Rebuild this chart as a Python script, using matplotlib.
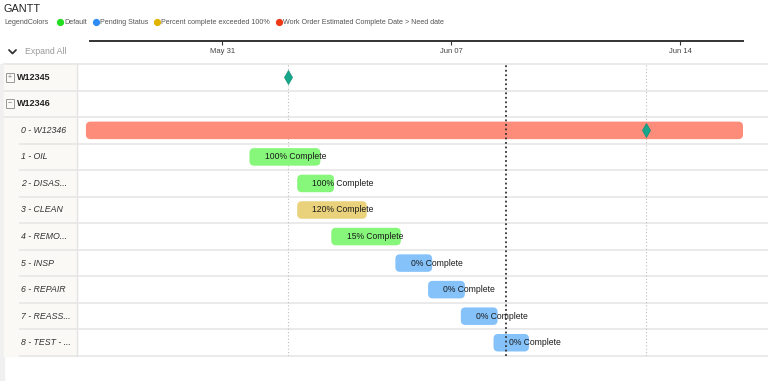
import pandas as pd
import matplotlib
matplotlib.use("Agg")
import matplotlib.pyplot as plt
import matplotlib.dates as mdates
from matplotlib.patches import FancyBboxPatch, Rectangle
from matplotlib.transforms import blended_transform_factory

plt.rcParams["font.family"] = ["Liberation Sans", "DejaVu Sans"]

# Data
row_labels = ["W12345", "W12346", "0 - W12346", "1 - OIL", "2 - DISAS...", "3 - CLEAN",
              "4 - REMO...", "5 - INSP", "6 - REPAIR", "7 - REASS...", "8 - TEST - ..."]
row_is_group = [True, True, False, False, False, False, False, False, False, False, False]
group_expanded = {"W12345": False, "W12346": True}

task_rows = ["0 - W12346", "1 - OIL", "2 - DISAS...", "3 - CLEAN", "4 - REMO...",
             "5 - INSP", "6 - REPAIR", "7 - REASS...", "8 - TEST - ..."]
task_start = ["2020-05-26 20:00", "2020-05-31 20:00", "2020-06-02 07:00", "2020-06-02 07:00",
              "2020-06-03 08:00", "2020-06-05 07:00", "2020-06-06 07:00", "2020-06-07 07:00",
              "2020-06-08 07:00"]
task_end = ["2020-06-15 22:00", "2020-06-03 00:00", "2020-06-03 10:00", "2020-06-04 10:00",
            "2020-06-05 11:00", "2020-06-06 10:00", "2020-06-07 10:00", "2020-06-08 10:00",
            "2020-06-09 09:00"]
task_status = ["late", "default", "default", "exceeded", "default",
               "pending", "pending", "pending", "pending"]
task_pct = [None, 100, 100, 120, 15, 0, 0, 0, 0]

milestone_rows = ["W12345", "0 - W12346"]
milestone_dates = ["2020-06-02 00:00", "2020-06-12 23:00"]
today = "2020-06-08 16:30"

axis_start = "2020-05-26 23:00"
axis_end = "2020-06-15 22:00"
axis_ticks = ["2020-05-31", "2020-06-07", "2020-06-14"]

legend_names = ["Default", "Pending Status", "Percent complete exceeded 100%",
                "Work Order Estimated Complete Date > Need date"]
legend_dots = ["#22dd22", "#2f8cf5", "#e0b400", "#f03a17"]

status_colors = {"late": "#fd8c7a", "default": "#86f77b",
                 "exceeded": "#ead27c", "pending": "#85c2fa"}

W, H = 768, 381
fig = plt.figure(figsize=(W / 100, H / 100), dpi=100)

# background layer in pixel units
bg = fig.add_axes([0, 0, 1, 1])
bg.set_xlim(0, W)
bg.set_ylim(H, 0)
bg.axis("off")

# gantt body
ax = fig.add_axes([90 / W, 1 - 356 / H, 653 / W, 292 / H])
ax.set_xlim(mdates.date2num(pd.Timestamp(axis_start)), mdates.date2num(pd.Timestamp(axis_end)))
ax.set_ylim(len(row_labels) - 0.5, -0.5)
ax.axis("off")
ax.patch.set_alpha(0)

row_y = {name: i for i, name in enumerate(row_labels)}
blend = blended_transform_factory(bg.transData, ax.transData)

# left panel
bg.add_patch(Rectangle((0, 64), 4, H - 64, color="#f0f0f0", zorder=0))
bg.add_patch(Rectangle((4, 64), 73, 292, color="#faf9f5", zorder=0))
bg.plot([77, 77], [64, 356], color="#e4e4e4", lw=1, zorder=1)
bg.plot([4, W], [64, 64], color="#e6e6e6", lw=1.2, zorder=1)

for i, name in enumerate(row_labels):
    x0 = 4 if (row_is_group[i] or (i + 1 < len(row_labels) and row_is_group[i + 1])) else 20
    bg.plot([x0, W], [i + 0.5, i + 0.5], color="#e6e6e6", lw=1.2, transform=blend, zorder=1)
    if row_is_group[i]:
        bg.add_patch(Rectangle((5.5, i - 0.17), 8, 0.34, transform=blend, fill=False,
                               edgecolor="#999999", lw=0.7, zorder=2))
        bg.text(9.5, i, "−" if group_expanded[name] else "+", transform=blend,
                ha="center", va="center", fontsize=5, color="#777777", zorder=3)
        bg.text(17, i, name, transform=blend, ha="left", va="center",
                fontsize=6.5, fontweight="bold", color="#222222")
    else:
        bg.text(21, i, name, transform=blend, ha="left", va="center",
                fontsize=6.3, style="italic", color="#333333")

# milestone / today lines
for d in milestone_dates:
    ax.axvline(mdates.date2num(pd.Timestamp(d)), color="#bdbdbd", lw=0.8,
               ls=(0, (1, 2)), zorder=1)
ax.axvline(mdates.date2num(pd.Timestamp(today)), color="#333333", lw=1.3,
           ls=(0, (1, 1.5)), zorder=5)

# bars
bar_h = 0.66
for name, s, e, st, pct in zip(task_rows, task_start, task_end, task_status, task_pct):
    x0 = mdates.date2num(pd.Timestamp(s))
    x1 = mdates.date2num(pd.Timestamp(e))
    y = row_y[name]
    patch = FancyBboxPatch((x0, y - bar_h / 2), x1 - x0, bar_h,
                           boxstyle="round,pad=0,rounding_size=0.14",
                           mutation_aspect=1.25, facecolor=status_colors[st],
                           edgecolor="none", clip_on=False, zorder=2)
    ax.add_patch(patch)
    if pct is not None:
        ax.annotate(f"{pct}% Complete", (x0, y), xytext=(11, 0), textcoords="offset points",
                    ha="left", va="center", fontsize=6.2, color="#1a1a1a", zorder=6)

# milestones
for name, d in zip(milestone_rows, milestone_dates):
    ax.plot(mdates.date2num(pd.Timestamp(d)), row_y[name], marker="d", markersize=7.5,
            markerfacecolor="#17a88c", markeredgecolor="#0f8f77", markeredgewidth=0.5,
            clip_on=False, zorder=4)

# date axis on top
tax = fig.add_axes([90 / W, 1 - 41 / H - 0.001, 653 / W, 0.001])
tax.set_xlim(ax.get_xlim())
tax.set_yticks([])
for sp in ["top", "left", "right"]:
    tax.spines[sp].set_visible(False)
tax.spines["bottom"].set_color("#333333")
tax.spines["bottom"].set_linewidth(1.4)
tax.set_xticks([mdates.date2num(pd.Timestamp(t)) for t in axis_ticks])
tax.xaxis.set_major_formatter(mdates.DateFormatter("%b %d"))
tax.tick_params(axis="x", length=3, width=0.8, color="#333333", labelsize=5.5,
                labelcolor="#444444", pad=1.5)

# title, legend, expand all
bg.text(4, 9, "GANTT", ha="left", va="center", fontsize=7.8, color="#222222")
bg.text(4, 22, "LegendColors", ha="left", va="center", fontsize=5.1, color="#555555")
fig.canvas.draw()
renderer = fig.canvas.get_renderer()
x = 57
for name, col in zip(legend_names, legend_dots):
    bg.plot(x + 3, 22, "o", markersize=4.2, color=col)
    t = bg.text(x + 7, 22, name, ha="left", va="center", fontsize=5.1, color="#555555")
    bb = t.get_window_extent(renderer)
    x = bb.x1 + 6

bg.plot([9, 12.5, 16], [50, 53.5, 50], color="#333333", lw=1.3, solid_capstyle="round")
bg.text(25, 52, "Expand All", ha="left", va="center", fontsize=6.3, color="#999999")

fig.savefig("out.png", dpi=100)
